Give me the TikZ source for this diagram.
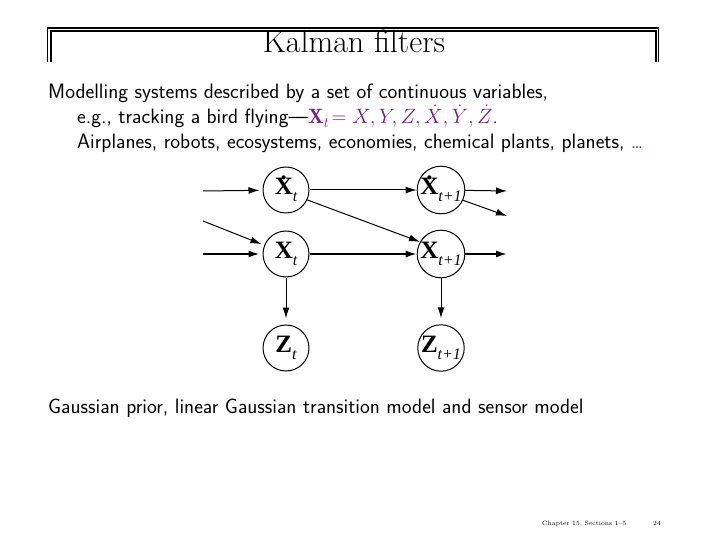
\documentclass[tikz,border=0pt]{standalone}
\usepackage{fontspec}
\newfontfamily\tms{Liberation Serif}
\usetikzlibrary{arrows.meta}
\definecolor{purp}{RGB}{120,30,140}
\newcommand\dotXX{\ooalign{\textbf{X}\cr\hidewidth\raisebox{0.6em}{\textbf{.}}\hidewidth\cr}}
\newcommand\subt[1]{\raisebox{-0.3em}{\fontsize{16}{16}\selectfont\itshape #1}}
\begin{document}
\begin{tikzpicture}[x=1pt,y=-1pt,
  state/.style={draw,circle,line width=1pt,minimum size=46pt,inner sep=0pt,font=\tms\fontsize{25}{25}\selectfont},
  arr/.style={-{Latex[length=11pt,width=7pt]},line width=1pt},
  arrb/.style={-{Latex[length=11pt,width=7pt]},line width=1.6pt},
  body/.style={anchor=base west,inner sep=0pt,font=\sffamily\fontsize{20.8}{20.8}\selectfont}]
\useasboundingbox (0,0) rectangle (720,540);
% header frame
\draw[line width=1.5pt] (47.5,62) -- (47.5,28) -- (658.5,28) -- (658.5,62);
\draw[line width=2pt] (51,62) -- (51,31.5) -- (656,31.5) -- (656,62);
\node[font=\fontsize{32}{32}\selectfont,anchor=base,inner sep=0pt] (title) at (354,53) {Kalman filters};
% body text
\node[body] (l1) at (48,99) {Modelling systems described by a set of continuous variables,};
\node[body] (l2) at (77,124) {e.g., tracking a bird flying---\textcolor{purp}{$\mathbf{X}_t \!= X, Y, Z, \dot{X}, \dot{Y}, \dot{Z}$.}};
\node[body] (l3) at (77,149) {Airplanes, robots, ecosystems, economies, chemical plants, planets, \textcolor{purp}{\ldots}};
\node[body] (l4) at (48,413) {Gaussian prior, linear Gaussian transition model and sensor model};
% footer
\node[font=\fontsize{6.3}{6.3}\selectfont,anchor=base west,inner sep=0pt] (foot) at (542,525) {Chapter 15, Sections 1--5};
\node[font=\fontsize{6.3}{6.3}\selectfont,anchor=base west,inner sep=0pt] (pg) at (653,525) {24};
% nodes
\node[state] (dx0) at (286,190) {\dotXX\subt{t}};
\node[state] (x0) at (286,254) {\textbf{X}\subt{t}};
\node[state] (z0) at (286,348) {\textbf{Z}\subt{t}};
\node[state] (dx1) at (441,190) {\dotXX\subt{t+1}};
\node[state] (x1) at (441,254) {\textbf{X}\subt{t+1}};
\node[state] (z1) at (441,348) {\textbf{Z}\subt{t+1}};
% free ends
\coordinate (ia) at (203,191);
\coordinate (ib) at (203,221);
\coordinate (ic) at (203,254);
\coordinate (oa) at (507,191);
\coordinate (ob) at (507,216);
\coordinate (oc) at (507,254);
% connectors
\draw[arr,shorten >=3pt] (ia) -- (dx0);
\draw[arr,shorten >=3pt] (ib) -- (x0.158);
\draw[arrb,shorten >=3pt] (ic) -- (x0);
\draw[arr] (dx0) -- (dx1);
\draw[arr] (dx0.-25) -- (x1.150);
\draw[arrb] (x0) -- (x1);
\draw[arr,shorten >=6pt] (x0) -- (z0);
\draw[arr,shorten >=6pt] (x1) -- (z1);
\draw[arr] (dx1) -- (oa);
\draw[arr] (dx1.-25) -- (ob);
\draw[arrb] (x1) -- (oc);
\end{tikzpicture}
\end{document}
